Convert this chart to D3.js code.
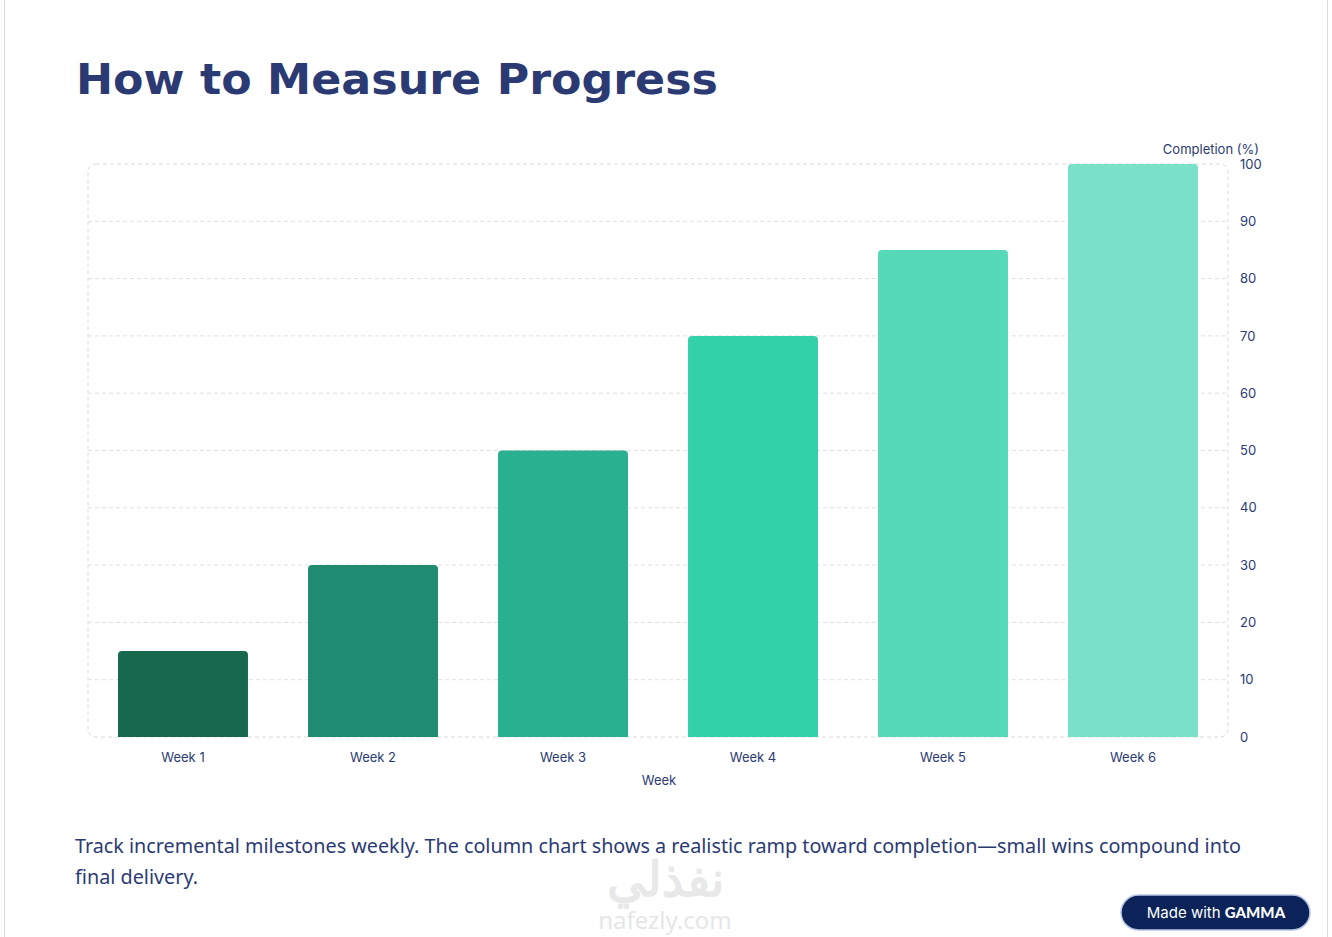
<!DOCTYPE html>
<html><head><meta charset="utf-8">
<script src="https://cdn.jsdelivr.net/npm/d3@7"></script>
<style>
body{margin:0;background:#fff;font-family:Inter,"Noto Sans",sans-serif;}
svg{display:block}
</style></head><body>
<svg id="c" width="1332" height="937"></svg>
<script>
const categories=["Week 1","Week 2","Week 3","Week 4","Week 5","Week 6"];
const values=[15,30,50,70,85,100];
const colors=["#18674f","#1f8c72","#2ab090","#33d1aa","#55d9b9","#7be0c8"];
const yTicks=[0,10,20,30,40,50,60,70,80,90,100];

const svg=d3.select("#c");
svg.append("rect").attr("x",4.5).attr("y",-2).attr("width",1323).attr("height",945).attr("fill","#fff").attr("stroke","#dcdcdc");
svg.append("text").attr("x",76).attr("y",94).attr("font-family","'DejaVu Sans', sans-serif").attr("font-weight",700).attr("font-size",42).attr("fill","#2b3a73").attr("textLength",642).attr("lengthAdjust","spacingAndGlyphs").text("How to Measure Progress");

const L=88,R=1228,T=164,B=737;
const x=d3.scaleBand().domain(categories).range([L,R]).paddingInner(0.316).paddingOuter(0.158);
const y=d3.scaleLinear().domain([0,100]).range([B,T]);
const g=svg.append("g");
g.append("rect").attr("x",L).attr("y",T).attr("width",R-L).attr("height",B-T).attr("rx",8).attr("fill","none").attr("stroke","#dadada").attr("stroke-dasharray","4,3");
g.selectAll("line.grid").data(yTicks.slice(1,-1)).join("line").attr("x1",L).attr("x2",R).attr("y1",d=>y(d)).attr("y2",d=>y(d)).attr("stroke","#e0e0e0").attr("stroke-dasharray","4,3");
function barPath(x0,w,y0,y1,r){return `M${x0},${y1}V${y0+r}Q${x0},${y0} ${x0+r},${y0}H${x0+w-r}Q${x0+w},${y0} ${x0+w},${y0+r}V${y1}Z`;}
g.selectAll("path.bar").data(values).join("path").attr("d",(d,i)=>barPath(x(categories[i]),x.bandwidth(),y(d),y(0),4)).attr("fill",(d,i)=>colors[i]);
const ya=d3.axisRight(y).tickValues(yTicks).tickSize(0).tickPadding(12);
const yg=g.append("g").attr("transform",`translate(${R},0)`).call(ya);
yg.select(".domain").remove();
yg.selectAll("text").attr("font-size",13).attr("fill","#2b3a73").attr("font-family","Inter, sans-serif");
const xa=d3.axisBottom(x).tickSize(0).tickPadding(16);
const xg=g.append("g").attr("transform",`translate(0,${B})`).call(xa);
xg.select(".domain").remove();
xg.selectAll("text").attr("font-size",13).attr("fill","#2b3a73").attr("font-family","Inter, sans-serif");
svg.append("text").attr("x",659).attr("y",785).attr("text-anchor","middle").attr("font-size",13).attr("fill","#2b3a73").text("Week");
svg.append("text").attr("x",1259).attr("y",154).attr("text-anchor","end").attr("font-size",13).attr("fill","#2b3a73").text("Completion (%)");
const p=svg.append("text").attr("font-family","'Noto Sans',sans-serif").attr("font-size",19.8).attr("fill","#2b3a73");
p.append("tspan").attr("x",75).attr("y",853).attr("textLength",1166).attr("lengthAdjust","spacingAndGlyphs").text("Track incremental milestones weekly. The column chart shows a realistic ramp toward completion—small wins compound into");
p.append("tspan").attr("x",75).attr("y",884).text("final delivery.");
svg.append("text").attr("x",665).attr("y",896).attr("text-anchor","middle").attr("font-size",48).attr("font-weight",900).attr("fill","#e8e8e8").attr("font-family","'Noto Sans', sans-serif").text("نفذلي");
svg.append("text").attr("x",665).attr("y",929).attr("text-anchor","middle").attr("font-size",24).attr("fill","#e6e6e6").attr("font-family","'Noto Sans', sans-serif").text("nafezly.com");
svg.append("rect").attr("x",1121).attr("y",895).attr("width",189).attr("height",35).attr("rx",17.5).attr("fill","#0b2358").attr("stroke","#b9c6e3").attr("stroke-width",1.5);
const bt=svg.append("text").attr("x",1216).attr("y",918).attr("text-anchor","middle").attr("font-size",15).attr("fill","#fff");
bt.append("tspan").text("Made with ");
bt.append("tspan").attr("font-weight",900).attr("font-family","Lato, sans-serif").text("GAMMA");
</script></body></html>
